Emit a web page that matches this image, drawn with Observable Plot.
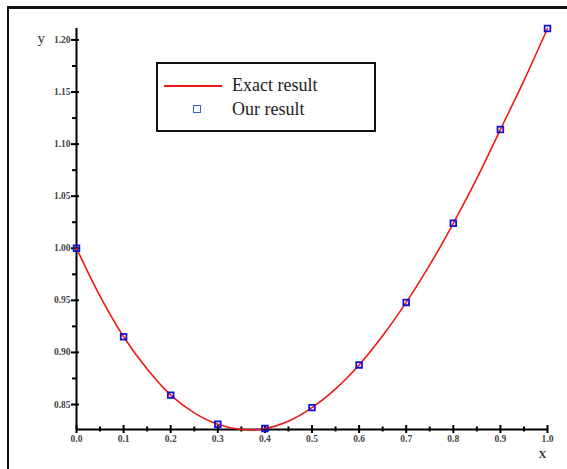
<!DOCTYPE html>
<html>
<head>
<meta charset="utf-8">
<script src="https://cdn.jsdelivr.net/npm/d3@7"></script>
<script src="https://cdn.jsdelivr.net/npm/@observablehq/plot@0.6"></script>
<style>
  html, body { margin: 0; padding: 0; background: #fff; overflow: hidden; }
  #wrap { position: relative; width: 567px; height: 469px; overflow: hidden; }
  #frame { position: absolute; left: 7px; top: 6px; width: 700px; height: 600px; border-left: 2px solid #111; border-top: 3px solid #111; box-sizing: border-box; }
  #legend { position: absolute; left: 156px; top: 62px; width: 220px; height: 70px; border: 2px solid #111; box-sizing: border-box; background: #fff; font-family: "Liberation Serif", "Times New Roman", serif; font-size: 18px; color: #222; }
  #legend .row { position: absolute; left: 0; height: 20px; line-height: 20px; }
  #legend .line { position: absolute; left: 6px; top: 9px; width: 58px; height: 0; border-top: 2px solid #f01818; }
  #legend .sq { position: absolute; left: 35px; top: 5px; width: 6px; height: 6px; border: 1.6px solid #3a5fc8; }
  #legend .lab { position: absolute; left: 74px; top: -1px; white-space: nowrap; }
  #chart { position: absolute; left: 0; top: 0; }
</style>
</head>
<body>
<div id="wrap">
  <div id="chart"></div>
  <div id="frame"></div>
  <div id="legend">
    <div class="row" style="top:12px"><div class="line"></div><div class="lab">Exact result</div></div>
    <div class="row" style="top:36px"><div class="sq"></div><div class="lab">Our result</div></div>
  </div>
</div>
<script>
// Numerical results (squares)
const ourX = [0.0, 0.1, 0.2, 0.3, 0.4, 0.5, 0.6, 0.7, 0.8, 0.9, 1.0];
const ourY = [1.000, 0.915, 0.859, 0.831, 0.827, 0.847, 0.888, 0.948, 1.024, 1.114, 1.211];

// Exact result (curve)
const exactX = [0.0, 0.05, 0.1, 0.15, 0.2, 0.25, 0.3, 0.35, 0.4, 0.45, 0.5, 0.55, 0.6, 0.65, 0.7, 0.75, 0.8, 0.85, 0.9, 0.95, 1.0];
const exactY = [1.000, 0.954, 0.915, 0.884, 0.859, 0.842, 0.831, 0.826, 0.827, 0.834, 0.847, 0.865, 0.888, 0.916, 0.948, 0.984, 1.024, 1.067, 1.114, 1.161, 1.211];

// Tick values
const xTicks = [0.0, 0.1, 0.2, 0.3, 0.4, 0.5, 0.6, 0.7, 0.8, 0.9, 1.0];
const xMinorTicks = [0.05, 0.15, 0.25, 0.35, 0.45, 0.55, 0.65, 0.75, 0.85, 0.95];
const yTicks = [0.85, 0.90, 0.95, 1.00, 1.05, 1.10, 1.15, 1.20];
const yMinorTicks = [0.875, 0.925, 0.975, 1.025, 1.075, 1.125, 1.175];
const xDomain = [0, 1];
const yDomain = [0.826, 1.211];

const ours = ourX.map((x, i) => ({x, y: ourY[i]}));
const exact = exactX.map((x, i) => ({x, y: exactY[i]}));

const fontFamily = '"Liberation Serif", "Times New Roman", serif';

const chart = Plot.plot({
  width: 567,
  height: 469,
  marginLeft: 76,
  marginRight: 20,
  marginTop: 28,
  marginBottom: 40,
  style: {fontFamily, background: "transparent", overflow: "visible"},
  x: {domain: xDomain},
  y: {domain: yDomain},
  marks: [
    Plot.ruleX([xDomain[0]], {stroke: "#000", strokeWidth: 2}),
    Plot.ruleY([yDomain[0]], {stroke: "#000", strokeWidth: 2}),
    Plot.axisY({ticks: yTicks, tickSize: 8, dx: 3, tickFormat: () => "", label: null, stroke: "#000", strokeWidth: 2}),
    Plot.axisY({ticks: yMinorTicks, tickSize: 4, tickFormat: () => "", label: null, stroke: "#000", strokeWidth: 2}),
    Plot.axisY({ticks: yTicks, tickSize: 0, tickPadding: 6, tickFormat: d3.format(".2f"), label: null, fontSize: 9.5, fontWeight: "bold", fill: "#444"}),
    Plot.axisX({ticks: xTicks, tickSize: 8, dy: -4, tickFormat: () => "", label: null, stroke: "#000", strokeWidth: 2}),
    Plot.axisX({ticks: xMinorTicks, tickSize: 5, dy: -2.5, tickFormat: () => "", label: null, stroke: "#000", strokeWidth: 2}),
    Plot.axisX({ticks: xTicks, tickSize: 0, tickPadding: 6, tickFormat: d3.format(".1f"), label: null, fontSize: 9.5, fontWeight: "bold", fill: "#444"}),
    Plot.text(["y"], {frameAnchor: "top-left", dx: -39, dy: 4, fontSize: 15, fill: "#333", textAnchor: "start"}),
    Plot.text(["X"], {frameAnchor: "bottom-right", dx: -1, dy: 28, fontSize: 11, fill: "#333", fontWeight: "bold"}),
    Plot.line(exact, {x: "x", y: "y", stroke: "#f01818", strokeWidth: 1.6, curve: "catmull-rom"}),
    Plot.dot(ours, {x: "x", y: "y", symbol: "square", r: 3.2, stroke: "#1010d0", strokeWidth: 1.8, fill: "none"})
  ]
});
document.getElementById("chart").appendChild(chart);
</script>
</body>
</html>
